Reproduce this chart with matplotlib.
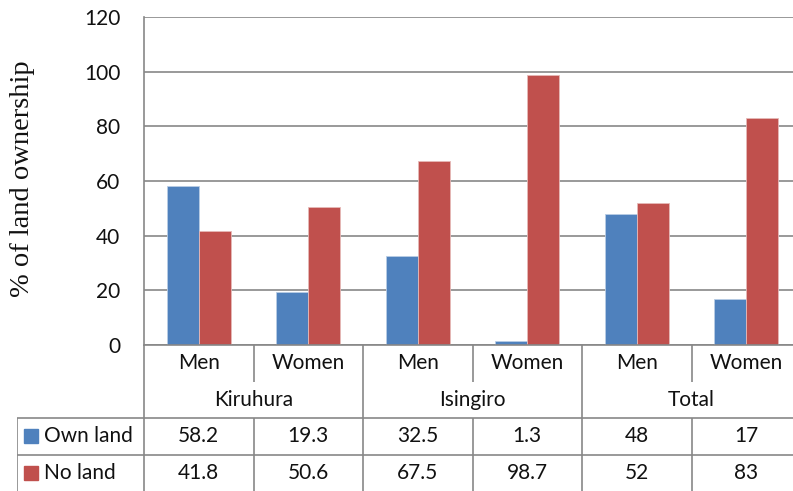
import numpy as np
import matplotlib
matplotlib.use("Agg")
import matplotlib.pyplot as plt

groups = ["Kiruhura", "Isingiro", "Total"]
sexes = ["Men", "Women", "Men", "Women", "Men", "Women"]
own_land = [58.2, 19.3, 32.5, 1.3, 48, 17]
no_land = [41.8, 50.6, 67.5, 98.7, 52, 83]
series_names = ["Own land", "No land"]
colors = ["#4F81BD", "#C0504D"]
yticks = [0, 20, 40, 60, 80, 100, 120]

W, H = 793, 491
grid_c = "#878787"
sans = "Lato"
txt_c = "#111111"

fig = plt.figure(figsize=(W / 100, H / 100), dpi=100)

# plot area: left edge 144px, right edge runs past the image (~801px)
left, right, top, zero = 144, 801, 17, 345
ax = fig.add_axes([left / W, (H - zero) / H, (right - left) / W, (zero - top) / H])

x = np.arange(len(sexes))
width = 0.29
ax.bar(x - width / 2, own_land, width, color=colors[0], edgecolor="#b9cde5", linewidth=0.6)
ax.bar(x + width / 2, no_land, width, color=colors[1], edgecolor="#e6b9b8", linewidth=0.6)

ax.set_xlim(-0.5, len(sexes) - 0.5)
ax.set_ylim(0, 120)
ax.set_yticks(yticks)
ax.set_xticks([])
ax.yaxis.grid(True, color=grid_c, linewidth=1.2)
ax.set_axisbelow(True)
for s in ["top", "right"]:
    ax.spines[s].set_visible(False)
for s in ["left", "bottom"]:
    ax.spines[s].set_color(grid_c)
    ax.spines[s].set_linewidth(1.2)
ax.tick_params(axis="y", length=0, pad=17, labelsize=15)
for t in ax.get_yticklabels():
    t.set_fontfamily(sans)
    t.set_color(txt_c)
ax.set_ylabel("% of land ownership", family="Liberation Serif", fontsize=20.5, color=txt_c)
ax.yaxis.set_label_coords((35 - left) / (right - left), (zero - 179) / (zero - top))

# data table below the plot, same x scale as the bars
cat_px = (right - left) / len(sexes)
tleft = 17
tax = fig.add_axes([tleft / W, 0, (right - tleft) / W, (H - zero) / H])
xl = -0.5 - (left - tleft) / cat_px
tax.set_xlim(xl, len(sexes) - 0.5)
tax.set_ylim(4, 0)
tax.axis("off")

lk = dict(color=grid_c, linewidth=1.2, solid_capstyle="butt")
tax.plot([-0.5, -0.5], [0, 4], **lk)
tax.plot([xl, xl], [2, 4], **lk)
tax.plot([xl, len(sexes) - 0.5], [2, 2], **lk)
tax.plot([xl, len(sexes) - 0.5], [3, 3], **lk)
for i in range(1, len(sexes)):
    b = i - 0.5
    if i % 2 == 0:
        tax.plot([b, b], [0, 4], **lk)
    else:
        tax.plot([b, b], [0, 1], **lk)
        tax.plot([b, b], [2, 4], **lk)

fs = 15
for i, s in enumerate(sexes):
    tax.text(i, 0.5, s, ha="center", va="center", fontsize=fs, family=sans, color=txt_c)
for g, name in enumerate(groups):
    tax.text(2 * g + 0.5, 1.5, name, ha="center", va="center", fontsize=fs, family=sans, color=txt_c)
for r, (vals, name, c) in enumerate(zip([own_land, no_land], series_names, colors)):
    yy = 2.5 + r
    for i, v in enumerate(vals):
        tax.text(i, yy, f"{v:g}", ha="center", va="center", fontsize=fs, family=sans, color=txt_c)
    tax.plot([xl + 0.13], [yy], marker="s", markersize=10, color=c, linestyle="none")
    tax.text(xl + 0.25, yy, name, ha="left", va="center", fontsize=fs, family=sans, color=txt_c)

fig.savefig("out.png", dpi=100)
